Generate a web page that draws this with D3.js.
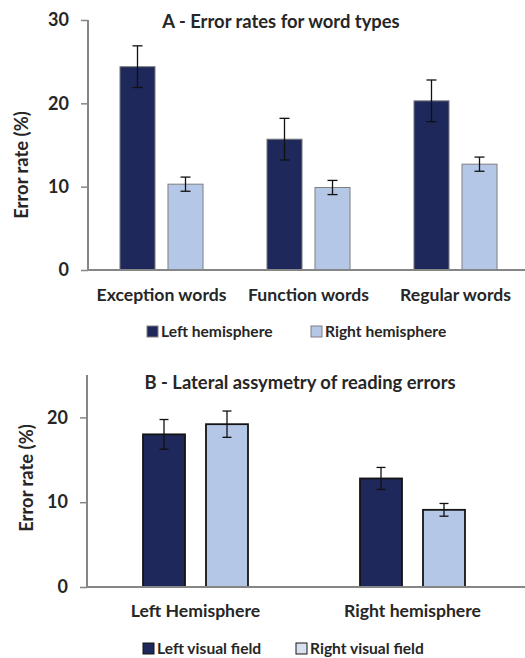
<!DOCTYPE html>
<html>
<head>
<meta charset="utf-8">
<script src="https://cdn.jsdelivr.net/npm/d3@7"></script>
<style>
  body { margin: 0; background: #fff; }
  text { font-family: Lato, "Open Sans", sans-serif; font-weight: bold; fill: #262626; }
</style>
</head>
<body>
<svg id="chart" width="525" height="658"></svg>
<script>
// panel A
const wordTypes = ["Exception words", "Function words", "Regular words"];
const hemispheres = ["Left hemisphere", "Right hemisphere"];
const leftHemiRate = [24.4, 15.7, 20.3];
const leftHemiErr = [2.5, 2.5, 2.5];
const rightHemiRate = [10.3, 9.9, 12.7];
const rightHemiErr = [0.85, 0.85, 0.85];
const ticksA = [0, 10, 20, 30];

// panel B
const hemiLabels = ["Left Hemisphere", "Right hemisphere"];
const fields = ["Left visual field", "Right visual field"];
const leftFieldRate = [18.0, 12.8];
const leftFieldErr = [1.75, 1.3];
const rightFieldRate = [19.2, 9.1];
const rightFieldErr = [1.55, 0.75];
const ticksB = [0, 10, 20];

const navy = "#1f285a";
const light = "#b4c7e7";
const axisGrey = "#868686";

const svg = d3.select("#chart");

function drawPanel(opt) {
    const g = svg.append("g");

    const y = d3.scaleLinear().domain(opt.yDomain).range([opt.bottom, opt.top]);
    const x0 = d3.scaleBand().domain(opt.cats).range([opt.left, opt.right])
        .paddingInner(0).paddingOuter(0);
    const x1 = d3.scaleBand().domain(opt.series).range([0, x0.bandwidth()])
        .paddingInner(opt.pin).paddingOuter(opt.pout);

    const rows = [];
    opt.cats.forEach((c, i) => {
        opt.series.forEach((s, j) => {
            rows.push({ cat: c, ser: s, v: opt.values[j][i], e: opt.errs[j][i], j: j });
        });
    });

    // bars
    g.selectAll("rect.bar")
        .data(rows)
        .enter()
        .append("rect")
        .attr("class", "bar")
        .attr("x", d => x0(d.cat) + x1(d.ser))
        .attr("y", d => y(d.v))
        .attr("width", x1.bandwidth())
        .attr("height", d => y(0) - y(d.v))
        .attr("fill", d => d.j === 0 ? navy : light)
        .attr("stroke", opt.barStroke)
        .attr("stroke-width", opt.barStrokeW);

    // error bars
    const cap = opt.cap;
    const eb = g.selectAll("g.err").data(rows).enter().append("g")
        .attr("transform", d => `translate(${x0(d.cat) + x1(d.ser) + x1.bandwidth() / 2},0)`);
    eb.append("line").attr("x1", 0).attr("x2", 0)
        .attr("y1", d => y(d.v + d.e)).attr("y2", d => y(d.v - d.e));
    eb.append("line").attr("x1", -cap / 2).attr("x2", cap / 2)
        .attr("y1", d => y(d.v + d.e)).attr("y2", d => y(d.v + d.e));
    eb.append("line").attr("x1", -cap / 2).attr("x2", cap / 2)
        .attr("y1", d => y(d.v - d.e)).attr("y2", d => y(d.v - d.e));
    eb.selectAll("line").attr("stroke", "#111").attr("stroke-width", 1.3);

    // y axis
    const yAxis = g.append("g")
        .attr("transform", `translate(${opt.left},0)`)
        .call(d3.axisLeft(y).tickValues(opt.ticks).tickSize(7).tickPadding(12));
    yAxis.select(".domain").remove();
    yAxis.selectAll(".tick line").attr("stroke", axisGrey).attr("stroke-width", 1.5);
    yAxis.selectAll(".tick text").attr("font-size", 18).attr("fill", "#262626")
        .attr("font-family", "Lato, sans-serif");
    g.append("line").attr("x1", opt.left).attr("x2", opt.left)
        .attr("y1", opt.top).attr("y2", opt.bottom)
        .attr("stroke", axisGrey).attr("stroke-width", 2);
    g.append("line").attr("x1", opt.left).attr("x2", 525)
        .attr("y1", opt.bottom).attr("y2", opt.bottom)
        .attr("stroke", axisGrey).attr("stroke-width", 2);

    // category labels
    g.selectAll("text.cat").data(opt.cats).enter().append("text")
        .attr("x", d => x0(d) + x0.bandwidth() / 2)
        .attr("y", opt.catY)
        .attr("text-anchor", "middle")
        .attr("font-size", 17.6)
        .text(d => d);

    // title
    g.append("text").attr("x", opt.titleX).attr("y", opt.titleY)
        .attr("text-anchor", "middle").attr("font-size", 18.4).text(opt.title);

    // y label
    g.append("text")
        .attr("transform", `translate(${opt.ylabX},${opt.ylabY}) rotate(-90)`)
        .attr("text-anchor", "middle").attr("font-size", 18.4).text("Error rate (%)");

    // legend
    const lg = g.selectAll("g.leg").data(opt.series).enter().append("g")
        .attr("transform", (d, i) => `translate(${opt.legX[i]},${opt.legY})`);
    lg.append("rect").attr("x", 0).attr("y", -11).attr("width", 11).attr("height", 11)
        .attr("fill", (d, i) => i === 0 ? navy : opt.legLight)
        .attr("stroke", opt.legStroke).attr("stroke-width", 1);
    lg.append("text").attr("x", 14).attr("y", 0).attr("font-size", 15.6).text(d => d);
}

drawPanel({
    cats: wordTypes, series: hemispheres,
    values: [leftHemiRate, rightHemiRate], errs: [leftHemiErr, rightHemiErr],
    yDomain: [0, 30], ticks: ticksA,
    top: 20, bottom: 270, left: 88, right: 529,
    pin: 0.27, pout: 0.666, cap: 10,
    barStroke: "#7f7f7f", barStrokeW: 1,
    catY: 301, title: "A - Error rates for word types", titleX: 281, titleY: 28,
    ylabX: 28, ylabY: 165,
    legX: [147, 311], legY: 337, legLight: light, legStroke: "#7f7f7f"
});

drawPanel({
    cats: hemiLabels, series: fields,
    values: [leftFieldRate, rightFieldRate], errs: [leftFieldErr, rightFieldErr],
    yDomain: [0, 25], ticks: ticksB,
    top: 375, bottom: 587, left: 87, right: 521,
    pin: 0.333, pout: 0.889, cap: 9,
    barStroke: "#141414", barStrokeW: 1.8,
    catY: 617, title: "B - Lateral assymetry of reading errors", titleX: 300, titleY: 389,
    ylabX: 33, ylabY: 478,
    legX: [143, 296], legY: 654, legLight: "#d9e1f0", legStroke: "#141414"
});
</script>
</body>
</html>
